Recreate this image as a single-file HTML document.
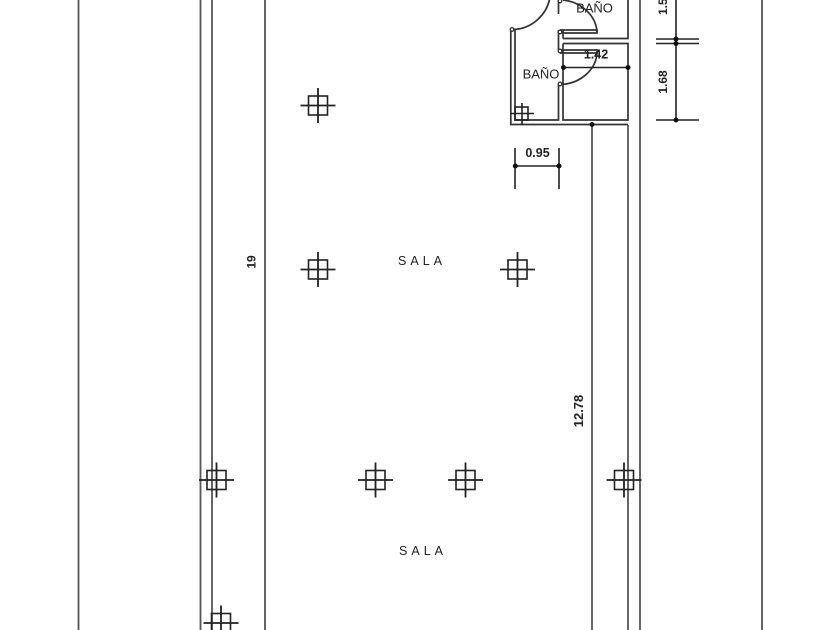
<!DOCTYPE html>
<html>
<head>
<meta charset="utf-8">
<style>
html,body{margin:0;padding:0;background:#fff;width:840px;height:630px;overflow:hidden}
svg{display:block}
text{font-family:"Liberation Sans",sans-serif;fill:#222}
</style>
</head>
<body>
<svg width="840" height="630" viewBox="0 0 840 630" xmlns="http://www.w3.org/2000/svg">
<rect width="840" height="630" fill="#fff"/>
<defs>
<g id="c" fill="none" stroke="#222" stroke-width="1.6">
<rect x="-9.5" y="-9.5" width="19" height="19"/>
<path d="M-17.5 0H17.5M0 -17.5V17.5" stroke-width="1.8"/>
</g>
</defs>
<!-- long walls -->
<g stroke="#555" stroke-width="1.8" fill="none">
<path d="M78.5 0V630M200.5 0V630M212 0V630M265 0V630M592 125V630M628 125V630M640 0V630M762 0V630"/>
</g>
<!-- bathrooms -->
<g stroke="#333" stroke-width="1.7" fill="none">
<path d="M510.8 29V124.5H628M515 29V120H558.5V84M558.5 52V30M563 43.5V120H628V43.5H563M563 38.5H628V0M563 30V38.5M558.5 0V14M563 52H560"/>
<path d="M560 30H597V33H562M560 50H597V53H560"/>
<path d="M512 29.5C532 29.5 548 14 550 -4" />
<path d="M563 0C582 2 596 16 597 32"/>
<path d="M597 53C596 70 580 84 560 84.5"/>
</g>
<g fill="#fff" stroke="#333" stroke-width="1.3">
<circle cx="512" cy="29.5" r="1.8"/><circle cx="560" cy="32" r="1.8"/><circle cx="560" cy="51" r="1.8"/><circle cx="560" cy="84" r="1.8"/><circle cx="560" cy="1" r="1.8"/>
</g>
<!-- dimensions -->
<g stroke="#222" stroke-width="1.6" fill="none">
<path d="M563 67.5H628M515 166H559M515 148V189M559 148V189M676 0V120M656 39H699M656 43.5H699M656 120H699"/>
</g>
<g fill="#111">
<circle cx="563.5" cy="67.5" r="2.5"/><circle cx="628" cy="67.5" r="2.5"/><circle cx="515.3" cy="166" r="2.5"/><circle cx="559" cy="166" r="2.5"/><circle cx="676" cy="39" r="2.5"/><circle cx="676" cy="43.5" r="2.5"/><circle cx="676" cy="120" r="2.5"/><circle cx="592" cy="124.5" r="2.5"/>
</g>
<!-- columns -->
<use href="#c" x="318" y="105.5"/>
<use href="#c" x="318" y="269.5"/>
<use href="#c" x="517.5" y="269.5"/>
<use href="#c" x="216.5" y="480"/>
<use href="#c" x="375.5" y="480"/>
<use href="#c" x="465.5" y="480"/>
<use href="#c" x="624" y="480"/>
<use href="#c" x="221" y="623"/>
<g fill="none" stroke="#222" stroke-width="1.6">
<rect x="515" y="107" width="13" height="13"/>
<path d="M511 113.5H534M522 103V125"/>
</g>
<!-- labels -->
<text x="594.5" y="12.5" font-size="13" text-anchor="middle">BAÑO</text>
<text x="541" y="78.5" font-size="13" text-anchor="middle">BAÑO</text>
<text x="422" y="265" font-size="12.5" text-anchor="middle" letter-spacing="4">SALA</text>
<text x="423" y="555" font-size="12.5" text-anchor="middle" letter-spacing="4">SALA</text>
<g font-weight="bold" font-size="12">
<text x="596" y="58.5" font-size="12.5" text-anchor="middle">1.42</text>
<text x="537.5" y="157" font-size="12.5" text-anchor="middle">0.95</text>
<text transform="translate(667,82) rotate(-90)" text-anchor="middle">1.68</text>
<text transform="translate(667,15) rotate(-90)" text-anchor="start">1.50</text>
<text transform="translate(583,411) rotate(-90)" font-size="13" text-anchor="middle">12.78</text>
<text transform="translate(255.5,262) rotate(-90)" text-anchor="middle">19</text>
</g>
</svg>
</body>
</html>
